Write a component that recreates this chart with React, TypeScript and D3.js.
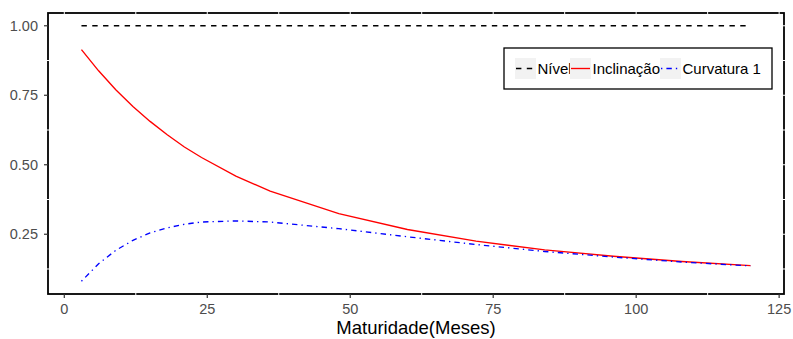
import React from "react";
import * as d3 from "d3";

// maturities (months) and factor loadings
const maturities = [3, 6, 9, 12, 15, 18, 21, 24, 30, 36, 48, 60, 72, 84, 96, 108, 120];
const nivel = [1, 1, 1, 1, 1, 1, 1, 1, 1, 1, 1, 1, 1, 1, 1, 1, 1];
const inclinacao = [0.914, 0.838, 0.770, 0.710, 0.656, 0.608, 0.564, 0.526, 0.459, 0.405, 0.324, 0.267, 0.225, 0.194, 0.171, 0.152, 0.137];
const curvatura = [0.081, 0.144, 0.192, 0.228, 0.255, 0.273, 0.286, 0.294, 0.298, 0.294, 0.270, 0.241, 0.213, 0.188, 0.168, 0.150, 0.136];

const xTicks = [0, 25, 50, 75, 100, 125];
const yTicks = [0.25, 0.5, 0.75, 1.0];
const xMinor = [12.5, 37.5, 62.5, 87.5, 112.5];
const yMinor = [0.125, 0.375, 0.625, 0.875];

const seriesNames = ["Nível", "Inclinação", "Curvatura 1"];

const W = 793, H = 339;
const panel = { left: 48, right: 784, top: 13, bottom: 294 };
const font = "'Liberation Sans', Arial, Helvetica, sans-serif";
const lw = 1.35;

export default function App() {
  const xExt = d3.extent(maturities) as [number, number];
  const xPad = (xExt[1] - xExt[0]) * 0.05;
  const x = d3.scaleLinear()
    .domain([xExt[0] - xPad, xExt[1] + xPad])
    .range([panel.left, panel.right]);

  const allY = [...nivel, ...inclinacao, ...curvatura];
  const yMin = d3.min(allY)!, yMax = d3.max(allY)!;
  const yPad = (yMax - yMin) * 0.05;
  const y = d3.scaleLinear()
    .domain([yMin - yPad, yMax + yPad])
    .range([panel.bottom, panel.top]);

  const line = d3.line<number>()
    .x((_, i) => x(maturities[i]))
    .y((d) => y(d));

  const series = [
    { name: seriesNames[0], values: nivel, color: "#000000", dash: `${4 * lw},${4 * lw}` },
    { name: seriesNames[1], values: inclinacao, color: "#FF0000", dash: "none" },
    { name: seriesNames[2], values: curvatura, color: "#0000FF", dash: `${1 * lw},${3 * lw},${4 * lw},${3 * lw}` },
  ];

  // legend layout
  const leg = { left: 504, top: 48, right: 772, bottom: 89 };
  const keyX = [515, 570, 660];
  const keyW = 21;
  const legMid = (leg.top + leg.bottom) / 2;

  return (
    <svg width={W} height={H} style={{ position: "absolute", left: 0, top: 0, fontFamily: font }}>
      <rect x={0} y={0} width={W} height={H} fill="#fff" />
      {/* panel border */}
      <rect x={panel.left} y={panel.top} width={panel.right - panel.left} height={panel.bottom - panel.top}
        fill="none" stroke="#000" strokeWidth={1.8} />
      {/* white gridlines that break the border */}
      {xMinor.map((v) => (
        <line key={"xm" + v} x1={x(v)} x2={x(v)} y1={panel.top - 2} y2={panel.bottom + 2} stroke="#fff" strokeWidth={1} />
      ))}
      {yMinor.map((v) => (
        <line key={"ym" + v} x1={panel.left - 2} x2={panel.right + 2} y1={y(v)} y2={y(v)} stroke="#fff" strokeWidth={1} />
      ))}
      {xTicks.map((v) => (
        <line key={"xg" + v} x1={x(v)} x2={x(v)} y1={panel.top - 2} y2={panel.top + 2} stroke="#fff" strokeWidth={1} />
      ))}
      {yTicks.map((v) => (
        <line key={"yg" + v} x1={panel.right - 2} x2={panel.right + 2} y1={y(v)} y2={y(v)} stroke="#fff" strokeWidth={1} />
      ))}

      {/* data */}
      {series.map((s) => (
        <path key={s.name} d={line(s.values)!} fill="none" stroke={s.color} strokeWidth={lw}
          strokeDasharray={s.dash} />
      ))}

      {/* x axis */}
      {xTicks.map((v) => (
        <g key={"xt" + v}>
          <line x1={x(v)} x2={x(v)} y1={panel.bottom} y2={panel.bottom + 4} stroke="#333" strokeWidth={1.2} />
          <text x={x(v)} y={314} textAnchor="middle" fontSize={14.5} fill="#4D4D4D">{v}</text>
        </g>
      ))}
      {/* y axis */}
      {yTicks.map((v) => (
        <g key={"yt" + v}>
          <line x1={panel.left - 4} x2={panel.left} y1={y(v)} y2={y(v)} stroke="#333" strokeWidth={1.2} />
          <text x={38} y={y(v)} dy="0.35em" textAnchor="end" fontSize={14.5} fill="#4D4D4D">{d3.format(".2f")(v)}</text>
        </g>
      ))}
      <text x={(panel.left + panel.right) / 2} y={334} textAnchor="middle" fontSize={18.5} fill="#000">Maturidade(Meses)</text>

      {/* legend */}
      <rect x={leg.left} y={leg.top} width={leg.right - leg.left} height={leg.bottom - leg.top}
        fill="#fff" stroke="#000" strokeWidth={1.3} />
      {series.map((s, i) => (
        <g key={"lg" + s.name}>
          <rect x={keyX[i]} y={legMid - 10.5} width={keyW} height={21} fill="#F2F2F2" />
          <line x1={keyX[i] + 1} x2={keyX[i] + keyW - 1} y1={legMid} y2={legMid} stroke={s.color}
            strokeWidth={lw} strokeDasharray={s.dash} />
          <text x={keyX[i] + keyW + 1.5} y={legMid} dy="0.35em" fontSize={15} fill="#000">{s.name}</text>
        </g>
      ))}
    </svg>
  );
}
